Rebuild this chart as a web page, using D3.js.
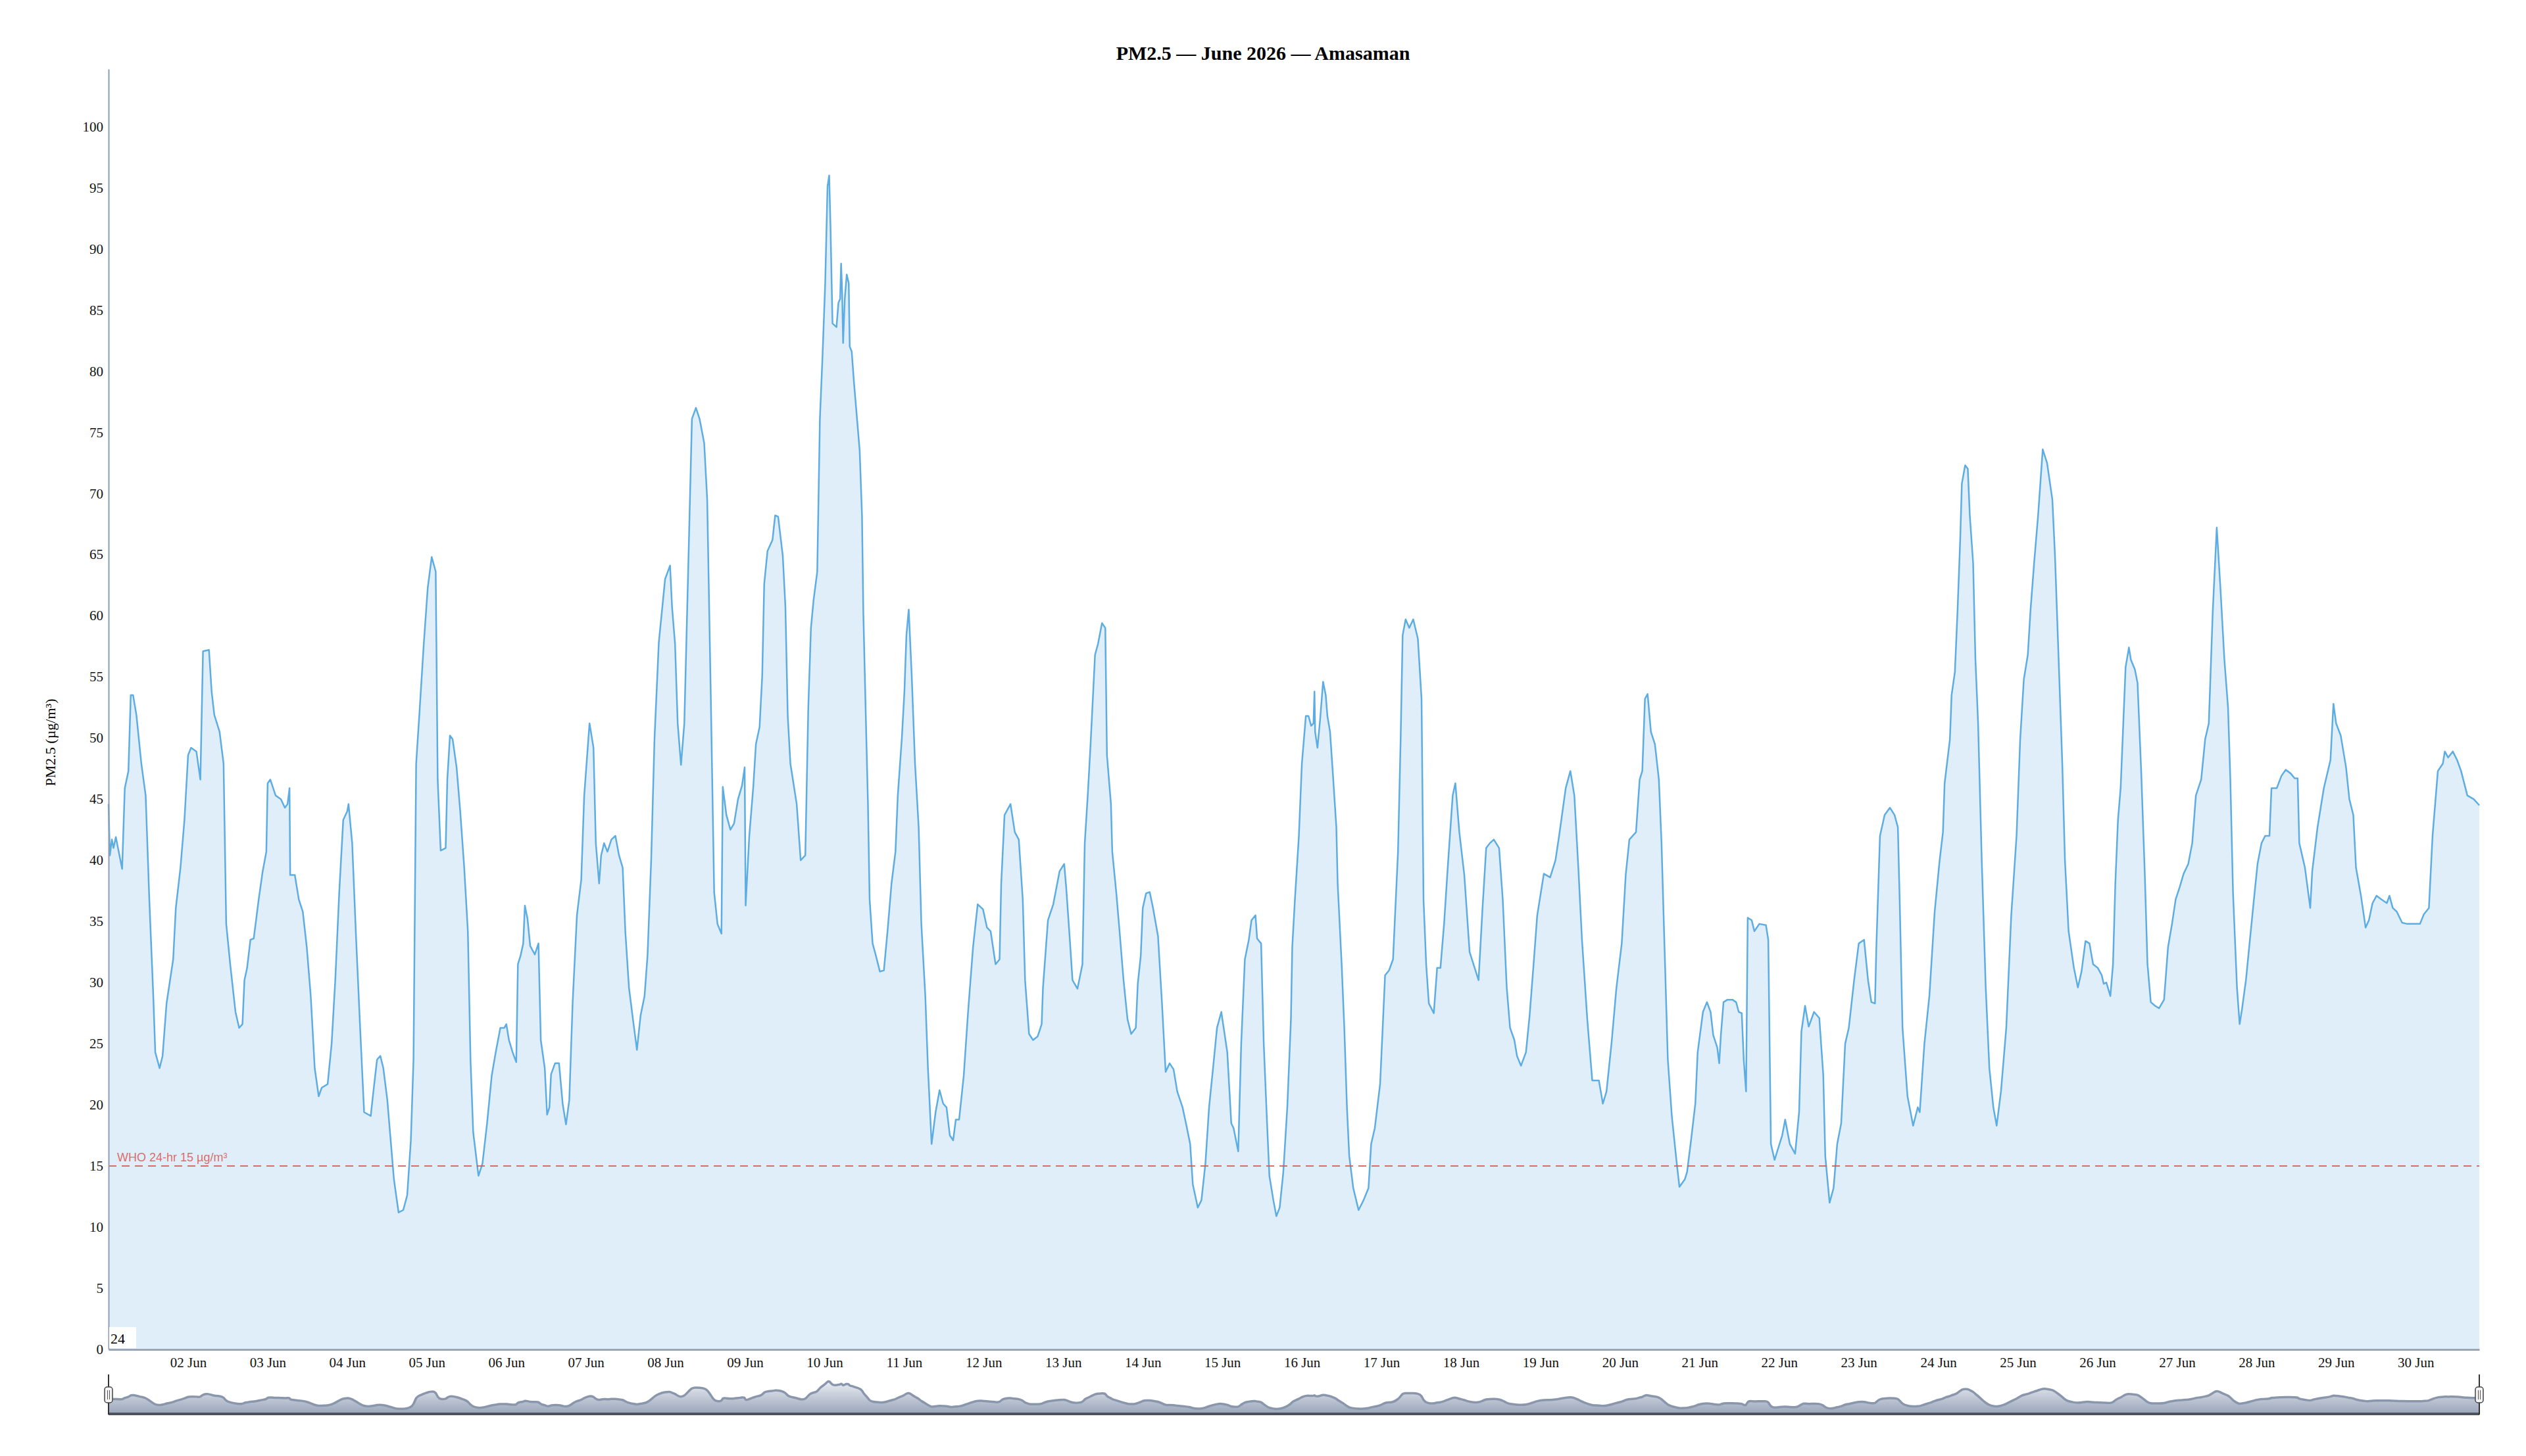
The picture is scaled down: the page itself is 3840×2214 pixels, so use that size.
<!DOCTYPE html>
<html>
<head>
<meta charset="utf-8">
<script src="https://d3js.org/d3.v7.min.js"></script>
<style>
body { margin: 0; background: #fff; }
text { font-family: "Liberation Serif", "Times New Roman", serif; }
</style>
</head>
<body>
<div id="chart"></div>
<script>
// hourly PM2.5 readings, Amasaman, June 2026 (hours counted from 01 Jun 00:00)
const startDate = new Date(2026, 5, 1, 0, 0);

const hoursFromStart = [
  0,0.4,1,1.5,2.2,4.1,4.9,6,6.7,7.4,8.4,9.9,11.2,12.3,13.5,14.1,15.4,16.3,17.5,19.5,20.3,21.7,22.9,24,24.9,26.5,27.7,28.5,30.3,31.1,31.9,33.5,34.7,35.5,36.7,38.3,39.4,40.4,41,41.8,42.8,43.8,45.3,46.5,47.6,48,48.8,50.4,52,53.2,54,54.6,54.8,56.2,57.4,58.6,59.8,61,62.2,63.4,64.3,66.1,67.3,68.4,69.6,70.8,72,72.4,73.5,74.7,75.9,77.1,79.1,79.9,81,82,82.9,84.1,85.3,86.1,87.5,88.9,90.1,91.2,92,92.8,93.9,95.1,96.3,97.5,98.7,99.3,100.2,101.7,102.2,103,103.8,105,106.1,107.3,108.4,109.2,110,111.6,112.8,114.2,115.6,116.8,118.2,119.4,
  120,120.8,121.9,123,123.5,124.3,125.1,125.6,126.4,127.2,128.6,129.7,130.4,131.6,132.3,133,133.5,134.7,135.9,137,138,139,140,141.3,142.6,143.5,145.1,146.3,147,148,148.6,149.5,150.5,151.7,152.9,154,155.1,155.9,157,158.2,159.4,160.5,161.7,162.6,163.7,164.7,166,167.9,169.4,170,170.9,171.7,172.7,173.7,174.8,176,177.2,178.3,179.7,180.6,181.7,182.7,183.7,184.9,185.3,186.4,187.6,188.7,189.9,191.1,191.9,192.2,193.3,194.5,195.3,196.4,197.2,197.8,198.8,200.3,201.1,202,203.4,204.2,204.9,205.7,207.6,208.8,210.2,211.1,211.9,212.7,213.8,214.6,215.4,216.2,216.9,217.4,217.8,218.4,219.6,220.2,220.7,221,221.3,221.6,222.1,222.7,223.3,223.6,224.2,224.9,225.8,226.6,227.3,227.7,228.5,229.1,229.6,230.5,231.5,232.7,233.9,235,236.2,237.4,238.1,239.3,240.1,
  240.7,241.4,242.3,243.3,244.4,245.2,246.4,247.2,248.3,249.5,250.7,251.8,252.8,253.8,254.8,255.6,256.6,258,259.3,260.8,262.2,263.8,265,266.1,267.6,268.8,269.3,270.3,272.1,273.4,274.6,275.8,276.5,277.7,278.9,280.3,281.5,281.9,283.4,285,286.9,288.3,288.9,290,290.8,292.3,293.8,294.5,295.4,296.2,297.6,298.5,299.7,300.7,301.2,302.4,302.8,304,305,306.2,307.4,308.5,309.9,310.5,311.4,312,313,314.1,315.1,316.6,317.8,318.9,320.1,321.3,322.4,324,325.1,326.3,327.1,328.6,329.7,330.9,332,333.2,334.4,335.7,337.5,338.7,339.4,340.8,341.7,342.8,344,344.8,346,346.5,347.7,348.5,349.5,350.2,351.4,352.3,353.3,354.4,355.6,356.7,357.1,357.9,359.1,
  360,361.2,362,362.8,363.5,363.8,364,364.7,365.5,366.4,367.2,367.7,368.5,369.3,370.4,370.8,372,372.8,373.6,374.3,375.5,377.1,378.6,380.1,380.9,382,383.6,385.1,386.3,387.5,389,389.8,390.4,391.3,392.4,393.6,395,396.1,396.7,397.5,398.3,399.8,400.8,401.8,402.9,404,405.5,406.3,407.5,409,410.6,413.3,414.5,415.6,416.7,417.9,419.5,420.6,421.8,422.8,424.1,424.9,426.1,427.6,428.7,429.9,431,433,434.9,436.5,437.6,439.6,441,442.2,443.4,444.5,446.1,447.6,449.6,450.8,451.9,453.4,454.9,456.5,457.7,458.8,460.8,461.9,462.7,463.5,464.3,465.3,466.5,467.7,468.5,469.2,470.4,471.6,473.1,473.9,475.5,476.2,477.4,
  478.7,479.4,481,482.2,483.3,484.1,485.3,485.9,486.4,487.2,488.4,489.9,491,491.8,492.7,493.3,494,494.5,495.7,496.5,498,500,500.7,501.5,502.6,503.4,504.9,505.8,507.2,508.8,510,510.7,511.8,512.9,514.5,516.1,517.3,517.9,519.2,520.4,521.5,522.7,523.9,525,526.6,528,529.6,530.8,531.8,532.9,533.3,534.4,535.8,537.4,538.8,539.8,540.4,541.2,542.7,544.4,545.8,546.4,547.8,549.3,550.9,552.4,553.4,553.9,555.5,556,557,557.8,558.6,559.1,560.1,560.9,561.5,562.5,563.2,564,565.1,566.3,567.4,568.6,569.6,570.9,572.5,574,575.6,576.7,577.8,579,579.8,580.9,582.1,583.5,584.8,586.4,587.2,588.3,589.4,590.2,591.3,592.9,594.1,595.2,596.4,597.6,
  598.7,600.1,601.3,601.9,602.7,603.9,604.7,605.4,606.2,607,607.8,608.5,609.5,610.1,611.3,612.1,613.2,614.3,615.1,616.1,617.4,618.6,620.1,621.3,622.5,623.6,624.8,626,627.4,628.6,629.7,631.3,632.5,633.6,634.8,636,637.1,638.3,639.4,640.1,640.9,642.1,642.9,643.6,644.8,646,647.1,648.3,649.5,650.6,651.9,652.5,654.1,655.5,656.8,658.3,659.5,660.4,660.9,662.6,664.2,664.8,666.4,668.3,670.3,671.2,672,673.4,675,676,677.2,678,679.5,680.9,681.9,683,684.2,685.7,687.3,688.1,689.1,690.3,691.9,693.4,697.3,698.5,700,701.1,702.7,704.2,704.8,705.8,707.2,708.5,709.7,711.6,713.5,715.2
];

const pm25 = [
  44.6,40.4,41.7,41.0,41.9,39.3,45.9,47.3,53.5,53.5,51.9,47.9,45.3,36.8,28.9,24.3,23.0,24.0,28.3,31.9,36.1,39.4,43.3,48.6,49.2,48.9,46.6,57.1,57.2,53.8,51.9,50.5,47.9,34.8,31.5,27.6,26.3,26.6,30.2,31.2,33.5,33.6,36.8,39.1,40.7,46.3,46.6,45.3,45.0,44.3,44.6,45.9,38.8,38.8,36.8,35.8,32.9,28.9,23.0,20.7,21.4,21.7,25.0,30.2,37.4,43.3,44.0,44.6,41.4,33.5,26.3,19.4,19.1,21.1,23.7,24.0,23.0,20.4,16.5,13.9,11.2,11.4,12.6,17.1,23.7,47.9,52.5,57.7,62.3,64.8,63.6,46.6,40.8,41.0,46.6,50.2,49.9,47.6,44.0,39.4,34.2,23.7,17.8,14.2,15.2,18.5,22.4,24.3,26.3,26.3,
  26.6,25.3,24.3,23.5,31.5,32.2,33.2,36.3,35.2,33.0,32.3,33.2,25.3,23.0,19.2,19.8,22.5,23.4,23.4,20.1,18.4,20.4,28.3,35.5,38.4,45.3,51.2,49.2,41.4,38.1,40.4,41.4,40.7,41.7,42.0,40.4,39.4,34.2,29.6,27.0,24.5,27.3,28.9,32.2,40.0,49.9,57.8,63.0,64.1,60.7,57.7,51.2,47.8,51.2,63.0,76.1,77.0,76.1,74.1,69.5,53.2,37.4,34.8,34.0,46.0,43.7,42.5,43.0,45.0,46.1,47.6,36.3,42.0,46.0,49.5,50.9,55.1,62.6,65.3,66.2,68.2,68.1,64.9,60.7,51.8,47.9,44.6,40.0,40.4,52.5,59.0,61.3,63.6,76.1,81.3,87.2,95.1,96.0,91.8,83.9,83.6,85.6,85.9,88.8,86.6,82.3,85.9,87.9,87.2,82.0,81.6,79.0,76.1,73.5,68.2,60.3,51.2,44.6,36.8,33.2,32.2,30.9,31.0,34.2,38.1,40.7,45.3,49.9,53.8,
  58.4,60.5,55.1,47.9,42.7,34.8,28.9,23.0,16.8,19.4,21.2,20.1,19.8,17.5,17.1,18.8,18.8,22.4,27.6,32.9,36.4,36.0,34.5,34.2,31.5,31.9,38.1,43.7,44.6,42.3,41.7,36.8,30.2,25.8,25.3,25.6,26.6,29.6,35.1,36.4,39.1,39.7,37.8,33.5,30.2,29.5,31.5,41.4,45.3,49.2,56.8,57.7,59.4,59.0,48.6,44.6,40.7,37.4,34.2,30.2,27.0,25.8,26.3,29.9,32.2,36.1,37.3,37.4,36.1,33.8,28.3,22.7,23.4,22.9,21.1,19.8,18.4,16.8,13.5,11.6,12.2,15.2,19.8,23.0,26.3,27.6,24.3,18.5,18.1,16.2,25.0,31.9,33.5,35.1,35.5,33.6,33.2,25.0,18.5,14.2,12.2,10.9,11.6,14.5,19.8,27.0,32.9,36.8,42.0,
  47.9,51.8,51.8,51.0,51.2,53.8,50.5,49.2,51.5,54.6,53.5,51.8,50.5,47.3,42.7,38.1,31.5,26.3,19.8,15.8,13.2,11.4,12.2,13.2,16.8,18.1,21.7,30.6,31.0,31.9,40.7,49.9,58.4,59.7,59.0,59.7,58.1,53.2,36.8,31.5,28.3,27.5,31.2,31.2,34.8,39.4,45.3,46.3,42.3,38.8,32.5,30.2,36.1,41.0,41.4,41.7,41.0,36.8,29.6,26.3,25.3,24.0,23.2,24.3,27.3,31.5,35.5,38.9,38.6,40.0,42.0,45.9,47.3,45.3,39.4,33.5,27.0,22.0,22.0,20.1,21.1,25.0,29.6,33.2,38.8,41.7,42.3,46.6,47.3,53.2,53.6,50.5,49.5,46.6,41.4,34.8,23.7,19.1,15.2,13.3,13.9,14.5,17.1,
  20.1,24.3,27.6,28.4,27.6,25.7,24.7,23.4,25.7,28.4,28.6,28.6,28.4,27.6,27.5,23.7,21.1,35.3,35.1,34.2,34.8,34.7,33.5,16.8,15.5,16.2,17.5,18.8,16.8,16.0,19.4,26.0,28.1,26.4,27.6,27.1,22.4,15.8,12.0,13.2,16.8,18.5,25.0,26.3,30.2,33.2,33.5,30.2,28.4,28.3,32.9,42.0,43.7,44.3,43.7,42.7,36.1,26.3,20.7,18.3,19.8,19.4,25.0,28.9,35.8,40.0,42.3,46.3,49.9,53.5,55.4,60.4,66.2,70.8,72.3,72.0,68.2,64.3,56.4,51.2,40.0,29.6,23.0,19.8,18.3,21.1,26.3,35.5,42.0,49.9,54.8,56.8,60.4,64.3,68.2,73.6,72.5,69.5,64.9,56.4,47.9,40.0,34.2,31.2,29.6,30.9,33.4,33.2,
  31.5,31.2,30.6,29.9,30.0,28.9,31.5,38.1,43.3,45.9,51.2,55.8,57.4,56.4,55.6,54.5,47.3,38.8,31.5,28.4,28.1,27.9,28.6,32.9,34.8,36.8,37.8,38.9,39.7,41.4,45.3,46.6,49.9,51.2,60.4,67.2,62.3,56.4,52.5,46.6,37.4,29.6,26.6,27.8,30.2,33.5,36.5,39.7,41.4,42.0,42.0,45.9,45.9,46.9,47.4,47.1,46.7,46.7,41.4,39.4,36.1,39.1,42.7,45.9,48.2,52.8,51.2,50.2,47.6,45.0,43.7,39.4,37.1,34.5,35.1,36.5,37.1,36.8,36.5,37.1,36.1,35.8,34.9,34.8,34.8,35.6,36.1,42.0,47.3,47.9,48.9,48.4,48.9,48.2,47.3,45.3,45.0,44.5
];

const yTickValues = [0,5,10,15,20,25,30,35,40,45,50,55,60,65,70,75,80,85,90,95,100];
const whoLimit = 15;
const whoLabel = "WHO 24-hr 15 µg/m³";
const chartTitle = "PM2.5 — June 2026 — Amasaman";
const yAxisTitle = "PM2.5 (µg/m³)";
const windowLabel = "24";

const width = 3840,
      height = 2214;

const plotLeft = 165, plotRight = 3769, plotTop = 105, plotBottom = 2052;
const navTop = 2096, navBottom = 2148;

const data = hoursFromStart.map((h, i) => ({
  t: new Date(startDate.getTime() + h * 3600 * 1000),
  v: pm25[i]
}));

let svg = d3.select("#chart").append("svg")
  .attr("width", width)
  .attr("height", height);

// scales
let x = d3.scaleTime()
  .domain(d3.extent(data, d => d.t))
  .range([plotLeft, plotRight]);

let y = d3.scaleLinear()
  .domain([0, 104.7])
  .range([plotBottom, plotTop]);

let navY = d3.scaleLinear()
  .domain([0, 104.7])
  .range([navBottom, navTop]);

// title
svg.append("text")
  .attr("x", width / 2)
  .attr("y", 91)
  .attr("text-anchor", "middle")
  .style("font-size", "30px")
  .style("font-weight", "bold")
  .text(chartTitle);

// area + line
let area = d3.area()
  .x(d => x(d.t))
  .y0(y(0))
  .y1(d => y(d.v));

let line = d3.line()
  .x(d => x(d.t))
  .y(d => y(d.v));

svg.append("path")
  .datum(data)
  .attr("fill", "#e0eefa")
  .attr("d", area);

svg.append("path")
  .datum(data)
  .attr("fill", "none")
  .attr("stroke", "#5dade2")
  .attr("stroke-width", 2.5)
  .attr("stroke-linejoin", "round")
  .attr("d", line);

// WHO guideline
svg.append("line")
  .attr("x1", plotLeft).attr("x2", plotRight)
  .attr("y1", y(whoLimit)).attr("y2", y(whoLimit))
  .attr("stroke", "#d9534f")
  .attr("stroke-opacity", 0.85)
  .attr("stroke-width", 2)
  .attr("stroke-dasharray", "12,8");

svg.append("text")
  .attr("x", plotLeft + 13)
  .attr("y", y(whoLimit) - 7)
  .style("font-family", "'Liberation Sans', Arial, sans-serif")
  .style("font-size", "18px")
  .attr("fill", "#d9534f")
  .attr("fill-opacity", 0.85)
  .text(whoLabel);

// axes
let yAxis = svg.append("g")
  .attr("transform", `translate(${plotLeft},0)`)
  .call(d3.axisLeft(y).tickValues(yTickValues).tickSize(0).tickSizeOuter(0).tickPadding(8));
yAxis.select(".domain").attr("stroke", "#8f9db0").attr("stroke-width", 2);
yAxis.selectAll("text")
  .style("font-family", "'Liberation Serif', 'Times New Roman', serif")
  .style("font-size", "21px")
  .attr("fill", "#111");

let xAxis = svg.append("g")
  .attr("transform", `translate(0,${plotBottom})`)
  .call(d3.axisBottom(x)
    .tickValues(d3.timeDay.range(new Date(2026, 5, 2), new Date(2026, 5, 31)))
    .tickFormat(d3.timeFormat("%d %b"))
    .tickSize(0).tickSizeOuter(0).tickPadding(12));
xAxis.select(".domain").attr("stroke", "#9aa6b6").attr("stroke-width", 3);
xAxis.selectAll("text")
  .style("font-family", "'Liberation Serif', 'Times New Roman', serif")
  .style("font-size", "21px")
  .attr("fill", "#111");

// y axis title
svg.append("text")
  .attr("transform", "translate(84,1129) rotate(-90)")
  .attr("text-anchor", "middle")
  .style("font-size", "22px")
  .text(yAxisTitle);

// rolling window box in the corner
svg.append("rect")
  .attr("x", plotLeft + 1).attr("y", 2018)
  .attr("width", 41).attr("height", 32)
  .attr("fill", "#fff");
svg.append("text")
  .attr("x", plotLeft + 3).attr("y", 2043)
  .style("font-size", "22px")
  .text(windowLabel);

// navigator
let defs = svg.append("defs");
let grad = defs.append("linearGradient")
  .attr("id", "navGrad")
  .attr("gradientUnits", "userSpaceOnUse")
  .attr("x1", 0).attr("y1", navTop)
  .attr("x2", 0).attr("y2", navBottom);
grad.append("stop").attr("offset", "0%").attr("stop-color", "#f1f3f7");
grad.append("stop").attr("offset", "100%").attr("stop-color", "#9da8bc");

let navArea = d3.area()
  .curve(d3.curveBasis)
  .x(d => x(d.t))
  .y0(navBottom)
  .y1(d => navY(d.v));

let navLine = d3.line()
  .curve(d3.curveBasis)
  .x(d => x(d.t))
  .y(d => navY(d.v));

svg.append("path")
  .datum(data)
  .attr("fill", "url(#navGrad)")
  .attr("d", navArea);

svg.append("path")
  .datum(data)
  .attr("fill", "none")
  .attr("stroke", "#8a96ab")
  .attr("stroke-width", 3.5)
  .attr("d", navLine);

svg.append("line")
  .attr("x1", plotLeft).attr("x2", plotRight)
  .attr("y1", navBottom + 2).attr("y2", navBottom + 2)
  .attr("stroke", "#4d535e")
  .attr("stroke-width", 4);

// navigator handles
[plotLeft, plotRight].forEach(function(hx) {
  let g = svg.append("g");
  g.append("line")
    .attr("x1", hx).attr("x2", hx)
    .attr("y1", 2090).attr("y2", navBottom + 3)
    .attr("stroke", "#333")
    .attr("stroke-width", 2);
  g.append("rect")
    .attr("x", hx - 6).attr("y", 2109)
    .attr("width", 12).attr("height", 24)
    .attr("rx", 4)
    .attr("fill", "#f4f4f4")
    .attr("stroke", "#444")
    .attr("stroke-width", 1.5);
  [-1.5, 1.5].forEach(function(o) {
    g.append("line")
      .attr("x1", hx + o).attr("x2", hx + o)
      .attr("y1", 2114).attr("y2", 2128)
      .attr("stroke", "#555")
      .attr("stroke-width", 1);
  });
});
</script>
</body>
</html>
